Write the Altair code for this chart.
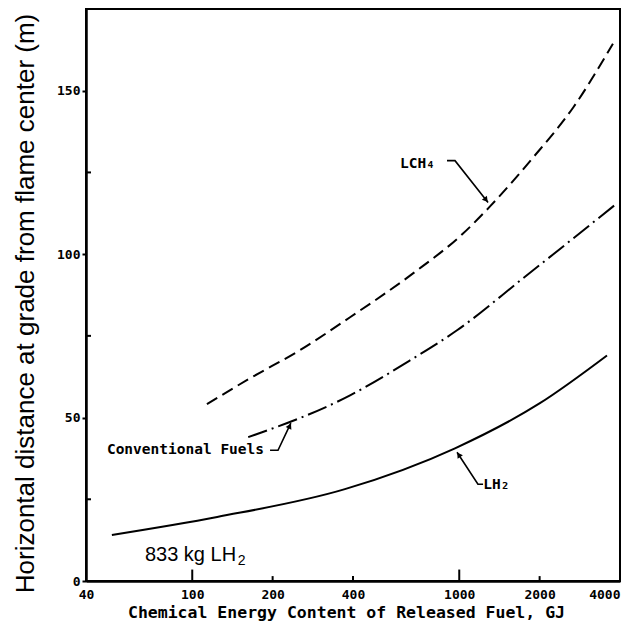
import altair as alt
import pandas as pd

# ---- curve data ----
lch4_x = [113.5, 164.4, 253, 390, 671, 1033, 1304, 1888, 2668, 3764]
lch4_y = [54.1, 62.0, 70.6, 80.7, 94.1, 106.3, 114.6, 129.5, 144.8, 164.4]

conv_x = [162, 390, 654, 981, 1733, 3932]
conv_y = [44.0, 56.8, 67.5, 76.7, 92.6, 115.8]

lh2_x = [50, 124, 373, 964, 2005, 3576]
lh2_y = [14.1, 19.6, 28.1, 40.6, 54.4, 69.0]

# ---- axes ----
x_tick_values = [40, 100, 200, 400, 1000, 2000, 4000]
y_tick_values = [0, 50, 100, 150]
x_inner_ticks = [100, 1000, 200, 400, 2000]
x_inner_len = [3.5, 3.5, 1.5, 1.5, 1.5]
y_minor_ticks = [25, 75, 125]

# ---- annotations ----
label_text = ["LCH\u2084", "Conventional Fuels", "LH\u2082"]
label_x = [600, 47.9, 1230]
label_y = [127.7, 40.0, 29.3]

arrow_id = [0, 0, 0, 1, 1, 1, 2, 2, 2]
arrow_x = [900, 964, 1282, 195.6, 209.5, 234, 1228, 1175, 981]
arrow_y = [128.6, 128.6, 115.8, 40.0, 40.0, 48.3, 29.6, 29.6, 39.4]
head_x = [1254, 231, 1000]
head_y = [116.8, 47.2, 38.4]
head_angle = [142, 26, 327]

note_main = "833 kg LH"
note_sub = "2"
note_x = [66.5, 148]
note_y = [6.1, 4.9]

xs = alt.Scale(type="log", domain=[40, 4000], nice=False)
ys = alt.Scale(domain=[0, 175], nice=False)

MONO = "DejaVu Sans Mono"

x_axis = alt.Axis(
    values=x_tick_values, format="d", ticks=False, grid=False,
    domainColor="black", domainWidth=2.5,
    labelFont=MONO, labelFontWeight="bold", labelFontSize=13, labelColor="black",
    labelPadding=7, labelFlush=False, labelOverlap=False,
    labelAlign={"expr": "datum.value >= 4000 ? 'right' : 'center'"},
    title="Chemical Energy Content of Released Fuel, GJ",
    titleFont=MONO, titleFontWeight="bold", titleFontSize=16.5, titleColor="black",
    titleX=260, titleY=31, titleBaseline="middle", titleAlign="center",
)
y_axis = alt.Axis(
    values=y_tick_values, grid=False, tickSize=4, tickWidth=2, tickColor="black",
    domainColor="black", domainWidth=2.5,
    labelFont=MONO, labelFontWeight="bold", labelFontSize=13, labelColor="black",
    labelPadding=2,
    title="Horizontal distance at grade from flame center (m)",
    titleFont="Liberation Sans", titleFontWeight="normal", titleFontSize=26,
    titleColor="black", titleAngle=-90, titleX=-61, titleY=294,
    titleAlign="center", titleBaseline="middle",
)


def X():
    return alt.X("x:Q", scale=xs)


def Y():
    return alt.Y("y:Q", scale=ys)


def curve(xv, yv):
    return pd.DataFrame({"x": xv, "y": yv})


lh2 = alt.Chart(curve(lh2_x, lh2_y)).mark_line(
    color="black", strokeWidth=2, interpolate="monotone"
).encode(x=alt.X("x:Q", scale=xs, axis=x_axis), y=alt.Y("y:Q", scale=ys, axis=y_axis))

lch4 = alt.Chart(curve(lch4_x, lch4_y)).mark_line(
    color="black", strokeWidth=2, strokeDash=[12, 6], interpolate="monotone"
).encode(x=X(), y=Y())

conv = alt.Chart(curve(conv_x, conv_y)).mark_line(
    color="black", strokeWidth=2, strokeDash=[20, 5, 2, 5], interpolate="monotone"
).encode(x=X(), y=Y())

xt = pd.DataFrame({"x": x_inner_ticks, "y": [0] * len(x_inner_ticks), "y2": x_inner_len})
x_ticks = alt.Chart(xt).mark_rule(color="black", strokeWidth=2).encode(
    x=X(), y=Y(), y2="y2:Q"
)

yt = pd.DataFrame({"y": y_minor_ticks})
y_ticks = alt.Chart(yt).mark_rule(color="black", strokeWidth=2).encode(
    x=alt.value(0), x2=alt.value(5), y=Y()
)

labels = alt.Chart(pd.DataFrame({"x": label_x, "y": label_y, "t": label_text})).mark_text(
    align="left", baseline="middle", font=MONO, fontWeight="bold", fontSize=14.5, color="black"
).encode(x=X(), y=Y(), text="t:N")

arrows = alt.Chart(pd.DataFrame({
    "id": arrow_id, "o": list(range(len(arrow_id))), "x": arrow_x, "y": arrow_y
})).mark_line(color="black", strokeWidth=1.6).encode(
    x=X(), y=Y(), detail="id:N", order="o:Q"
)

heads = alt.Chart(pd.DataFrame({"x": head_x, "y": head_y, "a": head_angle})).mark_point(
    shape="triangle", filled=True, size=40, color="black", opacity=1
).encode(x=X(), y=Y(), angle=alt.Angle("a:Q", scale=None))

note1 = alt.Chart(pd.DataFrame({"x": [note_x[0]], "y": [note_y[0]], "t": [note_main]})).mark_text(
    align="left", baseline="alphabetic", font="Liberation Sans", fontSize=20, color="black"
).encode(x=X(), y=Y(), text="t:N")

note2 = alt.Chart(pd.DataFrame({"x": [note_x[1]], "y": [note_y[1]], "t": [note_sub]})).mark_text(
    align="left", baseline="alphabetic", font="Liberation Sans", fontSize=14, color="black"
).encode(x=X(), y=Y(), text="t:N")

chart = alt.layer(
    lh2, lch4, conv, x_ticks, y_ticks, arrows, heads, labels, note1, note2
).properties(
    width=534, height=572,
    autosize=alt.AutoSizeParams(type="none"),
    padding={"left": 78, "top": 1, "right": 1, "bottom": 41},
    background="white",
).configure_view(
    stroke="black", strokeWidth=2
)

chart.save("out.html", embed_options={"renderer": "svg", "actions": False})
